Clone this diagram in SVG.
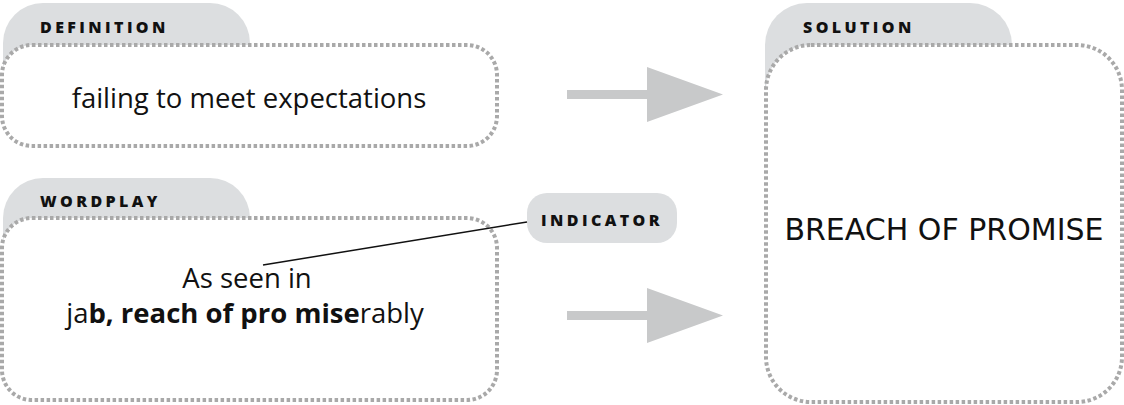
<svg xmlns="http://www.w3.org/2000/svg" width="1124" height="405" viewBox="0 0 1124 405">
<style>
.tab{fill:#dcdee0}
.box{fill:#fff;stroke:#a9a9a9;stroke-width:4;stroke-dasharray:3.5 2.5}
.lbl{font-family:"Open Sans",sans-serif;font-weight:800;font-size:16px;letter-spacing:3.4px;fill:#111}
.txt{font-family:"Open Sans",sans-serif;font-size:27.5px;fill:#111}
.arrow{fill:#c8c9ca}
</style>
<rect width="1124" height="405" fill="#fff"/>
<g id="definition">
<path class="tab" d="M3,80 V43 A40,40 0 0 1 43,3 H210 A40,40 0 0 1 250,43 V80 Z"/>
<rect class="box" x="2" y="45" width="495" height="101" rx="30"/>
<text class="lbl" x="40" y="33">DEFINITION</text>
<text class="txt" x="249" y="108" text-anchor="middle">failing to meet expectations</text>
</g>
<g id="wordplay">
<path class="tab" d="M3,255 V218 A40,40 0 0 1 43,178 H210 A40,40 0 0 1 250,218 V255 Z"/>
<rect class="box" x="2" y="218" width="495" height="182" rx="30"/>
<text class="lbl" x="40" y="207">WORDPLAY</text>
<text class="txt" x="247" y="288" text-anchor="middle">As seen in</text>
<text class="txt" x="245" y="323" text-anchor="middle">ja<tspan font-weight="700">b, reach of pro mise</tspan>rably</text>
</g>
<g id="indicator">
<rect class="tab" x="527" y="193" width="150" height="50" rx="20"/>
<text class="lbl" x="602" y="226" text-anchor="middle">INDICATOR</text>
</g>
<g id="solution">
<path class="tab" d="M765,90 V45 A42,42 0 0 1 807,3 H970 A42,42 0 0 1 1012,45 V90 Z"/>
<rect class="box" x="766" y="45" width="356" height="357" rx="45"/>
<text class="lbl" x="803" y="33">SOLUTION</text>
<text x="944" y="240" text-anchor="middle" font-family="'DejaVu Sans',sans-serif" font-size="30" fill="#111">BREACH OF PROMISE</text>
</g>
<g id="connectors">
<line x1="263" y1="265" x2="527" y2="222" stroke="#111" stroke-width="1.5"/>
<path class="arrow" d="M567,90 H647 V67 L723,94.5 L647,122 V99 H567 Z"/>
<path class="arrow" d="M567,311 H647 V288 L723,315.5 L647,343 V320 H567 Z"/>
</g>
</svg>
